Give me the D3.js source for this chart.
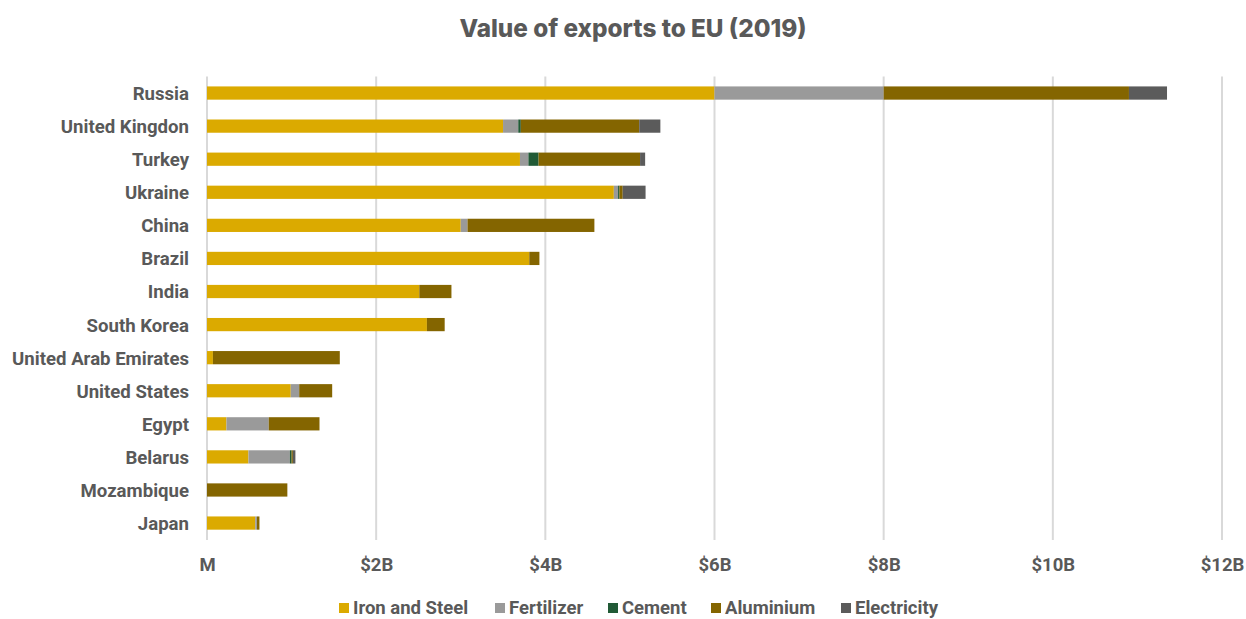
<!DOCTYPE html>
<html>
<head>
<meta charset="utf-8">
<script src="https://cdn.jsdelivr.net/npm/d3@7"></script>
<style>
  html, body { margin: 0; padding: 0; background: #fff; }
  svg { display: block; }
</style>
</head>
<body>
<svg id="chart" width="1246" height="619"></svg>
<script>
// Exports to the EU by country, 2019, in billions of US dollars
const countries = ["Russia", "United Kingdon", "Turkey", "Ukraine", "China", "Brazil", "India",
  "South Korea", "United Arab Emirates", "United States", "Egypt", "Belarus", "Mozambique", "Japan"];
const ironSteel   = [6.00, 3.50, 3.70, 4.81, 3.00, 3.81, 2.51, 2.60, 0.07, 0.99, 0.23, 0.49, 0.00, 0.57];
const fertilizer  = [2.00, 0.18, 0.10, 0.05, 0.08, 0.00, 0.00, 0.00, 0.00, 0.10, 0.50, 0.49, 0.00, 0.02];
const cement      = [0.00, 0.03, 0.12, 0.015, 0.00, 0.00, 0.00, 0.00, 0.00, 0.00, 0.00, 0.02, 0.00, 0.00];
const aluminium   = [2.90, 1.40, 1.20, 0.04, 1.50, 0.12, 0.38, 0.21, 1.50, 0.39, 0.60, 0.015, 0.95, 0.03];
const electricity = [0.45, 0.25, 0.06, 0.27, 0.00, 0.00, 0.00, 0.00, 0.00, 0.00, 0.00, 0.03, 0.00, 0.00];
const seriesNames = ["Iron and Steel", "Fertilizer", "Cement", "Aluminium", "Electricity"];
const xTicks = [0, 2, 4, 6, 8, 10, 12];

const seriesValues = [ironSteel, fertilizer, cement, aluminium, electricity];
const colors = ["#dbaa00", "#9a9a9a", "#215a36", "#846500", "#5b5b5b"];
const textColor = "#595959";

const rows = countries.map((c, i) => {
  const r = { country: c };
  seriesNames.forEach((s, j) => r[s] = seriesValues[j][i]);
  return r;
});

const svg = d3.select("#chart");
const x = d3.scaleLinear().domain([0, 12]).range([207, 1222]);
const y = d3.scaleBand().domain(countries).range([76.5, 539.6]).paddingInner(0.6).paddingOuter(0.3);

// Title
svg.append("text")
  .attr("x", 633).attr("y", 37)
  .attr("text-anchor", "middle")
  .attr("font-family", "Inter, 'Open Sans', sans-serif")
  .attr("font-weight", 800)
  .attr("font-size", 24.3)
  .attr("fill", textColor)
  .text("Value of exports to EU (2019)");

// Vertical gridlines
svg.append("g").selectAll("line")
  .data(xTicks).join("line")
  .attr("x1", d => x(d)).attr("x2", d => x(d))
  .attr("y1", 76.5).attr("y2", 540)
  .attr("stroke", "#d9d9d9").attr("stroke-width", 2);

// Stacked bars
const stack = d3.stack().keys(seriesNames);
const layers = stack(rows);
svg.append("g").selectAll("g")
  .data(layers).join("g")
  .attr("fill", (d, i) => colors[i])
  .selectAll("rect")
  .data(d => d).join("rect")
  .attr("x", d => x(d[0]))
  .attr("y", d => y(d.data.country))
  .attr("width", d => Math.max(0, x(d[1]) - x(d[0])))
  .attr("height", y.bandwidth());

// Country labels
const yAxis = d3.axisLeft(y).tickSize(0).tickPadding(0);
const gy = svg.append("g").attr("transform", "translate(189,1)").call(yAxis);
gy.select(".domain").remove();
gy.selectAll("text")
  .attr("font-family", "Roboto, sans-serif")
  .attr("font-weight", 700)
  .attr("font-size", 18.6)
  .attr("fill", textColor);

// Value axis labels
const xAxis = d3.axisBottom(x).tickValues(xTicks).tickSize(0).tickPadding(0)
  .tickFormat(d => d === 0 ? "M" : "$" + d + "B");
const gx = svg.append("g").attr("transform", "translate(0,558)").call(xAxis);
gx.select(".domain").remove();
gx.selectAll("text")
  .attr("font-family", "Roboto, sans-serif")
  .attr("font-weight", 700)
  .attr("font-size", 18.5)
  .attr("fill", textColor);

// Legend
const legendX = [339, 495, 608, 711, 841];
const legend = svg.append("g").selectAll("g")
  .data(seriesNames).join("g")
  .attr("transform", (d, i) => `translate(${legendX[i]},0)`);
legend.append("rect")
  .attr("x", 0).attr("y", 603).attr("width", 10).attr("height", 10)
  .attr("fill", (d, i) => colors[i]);
legend.append("text")
  .attr("x", 14).attr("y", 614)
  .attr("font-family", "Roboto, sans-serif")
  .attr("font-weight", 700)
  .attr("font-size", 18.5)
  .attr("fill", textColor)
  .text(d => d);
</script>
</body>
</html>
